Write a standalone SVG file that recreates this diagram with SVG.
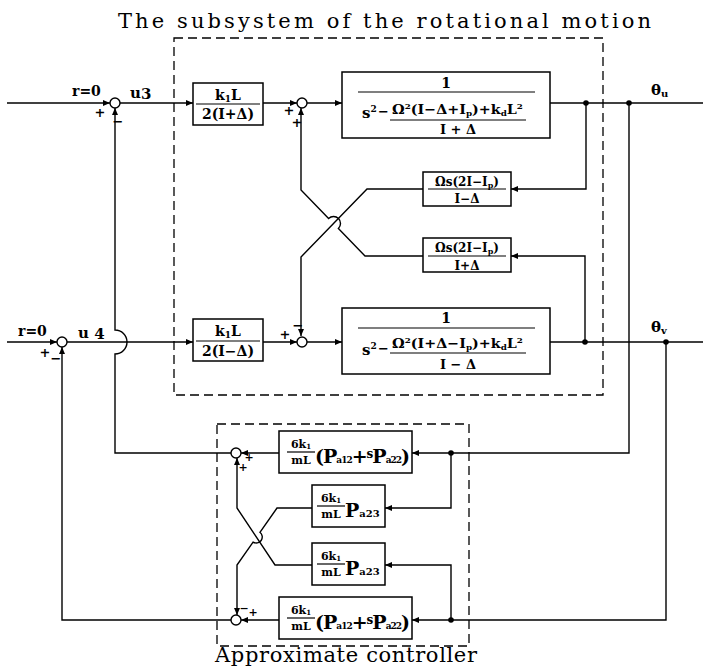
<svg xmlns="http://www.w3.org/2000/svg" width="703" height="670" viewBox="0 0 703 670">
<defs>
<style>
.ln{fill:none;stroke:#000;stroke-width:1.4}
.bx{fill:#fff;stroke:#000;stroke-width:1.5}
.dash{fill:none;stroke:#000;stroke-width:1.3;stroke-dasharray:9 5}
.sum{fill:#fff;stroke:#000;stroke-width:1.4}
.t{font-family:"DejaVu Serif","Liberation Serif",serif;font-weight:bold;fill:#000}
.ttl{font-family:"DejaVu Serif","Liberation Serif",serif;fill:#000;font-size:21px}
.fl{stroke:#000;stroke-width:1.2}
.dot{fill:#000}
</style>
<marker id="a" markerWidth="7" markerHeight="6" refX="7" refY="3" orient="auto" markerUnits="userSpaceOnUse"><path d="M0,0 L7,3 L0,6z" fill="#000"/></marker>
</defs>
<rect width="703" height="670" fill="#fff"/>
<text class="ttl" x="118" y="28" textLength="533" lengthAdjust="spacing">The subsystem of the rotational motion</text>
<rect class="dash" x="174" y="38" width="429" height="357"/>
<rect class="dash" x="217" y="424" width="252" height="222"/>
<text class="ttl" x="215" y="662" textLength="262" lengthAdjust="spacing">Approximate controller</text>

<g id="connectors">
<path class="ln" d="M7,103 H110" marker-end="url(#a)"/>
<path class="ln" d="M120,103 H193" marker-end="url(#a)"/>
<path class="ln" d="M263,103 H297" marker-end="url(#a)"/>
<path class="ln" d="M307,103 H342" marker-end="url(#a)"/>
<path class="ln" d="M550,103 H703"/>
<path class="ln" d="M586,103 V189 H511" marker-end="url(#a)"/>
<path class="ln" d="M423,189 H367 L301,257 V336" marker-end="url(#a)"/>
<path class="ln" d="M585,342 V256 H511" marker-end="url(#a)"/>
<path class="ln" d="M423,256 H365 L338.4,228.5 A7,7 0 0 0 328.6,218.5 L301,190 V108" marker-end="url(#a)"/>
<path class="ln" d="M7,342 H57" marker-end="url(#a)"/>
<path class="ln" d="M67,342 H193" marker-end="url(#a)"/>
<path class="ln" d="M263,342 H297" marker-end="url(#a)"/>
<path class="ln" d="M307,342 H342" marker-end="url(#a)"/>
<path class="ln" d="M550,342 H703"/>
<path class="ln" d="M629,103 V453 H412" marker-end="url(#a)"/>
<path class="ln" d="M451,453 V508 H385" marker-end="url(#a)"/>
<path class="ln" d="M312,508 H277 L259.95,532.3 A6,6 0 0 1 253.05,542.1 L237,565 V615" marker-end="url(#a)"/>
<path class="ln" d="M666,342 V620 H412" marker-end="url(#a)"/>
<path class="ln" d="M451,620 V565 H385" marker-end="url(#a)"/>
<path class="ln" d="M312,565 H275 L237,508 V458" marker-end="url(#a)"/>
<path class="ln" d="M279,453 H241" marker-end="url(#a)"/>
<path class="ln" d="M279,620 H241" marker-end="url(#a)"/>
<path class="ln" d="M231,453 H115 V354 A12,12 0 0 0 115,330 V108" marker-end="url(#a)"/>
<path class="ln" d="M231,620 H62 V347" marker-end="url(#a)"/>
<circle class="dot" cx="586" cy="103" r="2.8"/>
<circle class="dot" cx="629" cy="103" r="2.8"/>
<circle class="dot" cx="585" cy="342" r="2.8"/>
<circle class="dot" cx="666" cy="342" r="2.8"/>
<circle class="dot" cx="451" cy="453" r="2.8"/>
<circle class="dot" cx="451" cy="620" r="2.8"/>
</g>

<g id="labels">
<text class="t" x="72" y="96" font-size="14">r=0</text>
<text class="t" x="130" y="98" font-size="15">u<tspan dy="1">3</tspan></text>
<text class="t" x="18" y="336" font-size="14">r=0</text>
<text class="t" x="78" y="338" font-size="15">u <tspan dy="1">4</tspan></text>
<text class="t" x="651" y="95" font-size="15">θ<tspan font-size="10" dy="2">u</tspan></text>
<text class="t" x="651" y="332" font-size="15">θ<tspan font-size="10" dy="2">v</tspan></text>
</g>

<g id="sum1"><circle class="sum" cx="115" cy="103" r="5"/><text class="t" x="100" y="117" font-size="13" text-anchor="middle">+</text><text class="t" x="118" y="126" font-size="13" text-anchor="middle">−</text></g>
<g id="sum2"><circle class="sum" cx="302" cy="103" r="5"/><text class="t" x="289" y="115" font-size="13" text-anchor="middle">+</text><text class="t" x="297" y="127" font-size="13" text-anchor="middle">+</text></g>
<g id="sum3"><circle class="sum" cx="62" cy="342" r="5"/><text class="t" x="45" y="357" font-size="13" text-anchor="middle">+</text><text class="t" x="56" y="363" font-size="13" text-anchor="middle">−</text></g>
<g id="sum4"><circle class="sum" cx="302" cy="342" r="5"/><text class="t" x="285" y="339" font-size="13" text-anchor="middle">+</text><text class="t" x="298" y="330" font-size="13" text-anchor="middle">−</text></g>
<g id="sum5"><circle class="sum" cx="236" cy="453" r="5"/><text class="t" x="249" y="461" font-size="11" text-anchor="middle">+</text><text class="t" x="243" y="471" font-size="11" text-anchor="middle">+</text></g>
<g id="sum6"><circle class="sum" cx="236" cy="620" r="5"/><text class="t" x="244" y="612" font-size="11" text-anchor="middle">−</text><text class="t" x="253" y="616" font-size="11" text-anchor="middle">+</text></g>

<g id="k1"><rect class="bx" x="193" y="83" width="70" height="42"/>
<text class="t" x="228" y="100" font-size="14" text-anchor="middle">k<tspan font-size="9" dy="2">1</tspan><tspan dy="-2">L</tspan></text>
<line class="fl" x1="196" y1="104" x2="260" y2="104"/>
<text class="t" x="228" y="119" font-size="14" text-anchor="middle">2(I+Δ)</text></g>

<g id="k2"><rect class="bx" x="193" y="319" width="70" height="42"/>
<text class="t" x="228" y="336" font-size="14" text-anchor="middle">k<tspan font-size="9" dy="2">1</tspan><tspan dy="-2">L</tspan></text>
<line class="fl" x1="196" y1="341" x2="260" y2="341"/>
<text class="t" x="228" y="356" font-size="14" text-anchor="middle">2(I−Δ)</text></g>

<g id="g1"><rect class="bx" x="342" y="72" width="208" height="66"/>
<text class="t" x="446" y="88" font-size="14" text-anchor="middle">1</text>
<line class="fl" x1="358" y1="92" x2="535" y2="92"/>
<text class="t" x="362" y="118" font-size="15">s<tspan font-size="9" dy="-6">2</tspan></text>
<text class="t" x="378" y="116" font-size="13">−</text>
<text class="t" x="392" y="114" font-size="13" textLength="131" lengthAdjust="spacingAndGlyphs">Ω<tspan font-size="8" dy="-5">2</tspan><tspan dy="5">(I−Δ+I</tspan><tspan font-size="8" dy="2">p</tspan><tspan dy="-2">)+k</tspan><tspan font-size="8" dy="2">d</tspan><tspan dy="-2">L</tspan><tspan font-size="8" dy="-5">2</tspan></text>
<line class="fl" x1="390" y1="120" x2="526" y2="120"/>
<text class="t" x="458" y="134" font-size="13" text-anchor="middle">I + Δ</text></g>

<g id="g2"><rect class="bx" x="342" y="308" width="208" height="66"/>
<text class="t" x="446" y="323" font-size="14" text-anchor="middle">1</text>
<line class="fl" x1="358" y1="328" x2="535" y2="328"/>
<text class="t" x="362" y="355" font-size="15">s<tspan font-size="9" dy="-6">2</tspan></text>
<text class="t" x="378" y="353" font-size="13">−</text>
<text class="t" x="392" y="348" font-size="13" textLength="131" lengthAdjust="spacingAndGlyphs">Ω<tspan font-size="8" dy="-5">2</tspan><tspan dy="5">(I+Δ−I</tspan><tspan font-size="8" dy="2">p</tspan><tspan dy="-2">)+k</tspan><tspan font-size="8" dy="2">d</tspan><tspan dy="-2">L</tspan><tspan font-size="8" dy="-5">2</tspan></text>
<line class="fl" x1="390" y1="353" x2="526" y2="353"/>
<text class="t" x="458" y="369" font-size="13" text-anchor="middle">I − Δ</text></g>

<g id="f1"><rect class="bx" x="423" y="172" width="88" height="34"/>
<text class="t" x="467" y="186" font-size="12" text-anchor="middle">Ωs(2I−I<tspan font-size="8" dy="2">p</tspan><tspan dy="-2">)</tspan></text>
<line class="fl" x1="428" y1="189" x2="506" y2="189"/>
<text class="t" x="467" y="203" font-size="12" text-anchor="middle">I−Δ</text></g>

<g id="f2"><rect class="bx" x="423" y="238" width="88" height="34"/>
<text class="t" x="467" y="252" font-size="12" text-anchor="middle">Ωs(2I−I<tspan font-size="8" dy="2">p</tspan><tspan dy="-2">)</tspan></text>
<line class="fl" x1="428" y1="256" x2="506" y2="256"/>
<text class="t" x="467" y="270" font-size="12" text-anchor="middle">I+Δ</text></g>

<g id="c1"><rect class="bx" x="279" y="431" width="133" height="42"/>
<text class="t" x="301" y="448" font-size="11" text-anchor="middle">6k<tspan font-size="7" dy="1">1</tspan></text>
<line class="fl" x1="287" y1="452" x2="315" y2="452"/>
<text class="t" x="301" y="464" font-size="11" text-anchor="middle">mL</text>
<text class="t" x="315" y="463" font-size="19" textLength="95" lengthAdjust="spacing" font-weight="normal">(P<tspan font-size="9" font-weight="bold">a12</tspan>+<tspan font-size="12" dy="-5">s</tspan><tspan dy="5">P</tspan><tspan font-size="9" font-weight="bold">a22</tspan>)</text></g>

<g id="c2"><rect class="bx" x="312" y="485" width="73" height="42"/>
<text class="t" x="331" y="502" font-size="11" text-anchor="middle">6k<tspan font-size="7" dy="1">1</tspan></text>
<line class="fl" x1="317" y1="506" x2="345" y2="506"/>
<text class="t" x="331" y="518" font-size="11" text-anchor="middle">mL</text>
<text class="t" x="345" y="517" font-size="19" font-weight="normal">P<tspan font-size="10" font-weight="bold">a23</tspan></text></g>

<g id="c3"><rect class="bx" x="312" y="543" width="73" height="42"/>
<text class="t" x="331" y="560" font-size="11" text-anchor="middle">6k<tspan font-size="7" dy="1">1</tspan></text>
<line class="fl" x1="317" y1="564" x2="345" y2="564"/>
<text class="t" x="331" y="576" font-size="11" text-anchor="middle">mL</text>
<text class="t" x="345" y="575" font-size="19" font-weight="normal">P<tspan font-size="10" font-weight="bold">a23</tspan></text></g>

<g id="c4"><rect class="bx" x="279" y="597" width="133" height="42"/>
<text class="t" x="301" y="614" font-size="11" text-anchor="middle">6k<tspan font-size="7" dy="1">1</tspan></text>
<line class="fl" x1="287" y1="618" x2="315" y2="618"/>
<text class="t" x="301" y="630" font-size="11" text-anchor="middle">mL</text>
<text class="t" x="315" y="629" font-size="19" textLength="95" lengthAdjust="spacing" font-weight="normal">(P<tspan font-size="9" font-weight="bold">a12</tspan>+<tspan font-size="12" dy="-5">s</tspan><tspan dy="5">P</tspan><tspan font-size="9" font-weight="bold">a22</tspan>)</text></g>
</svg>
